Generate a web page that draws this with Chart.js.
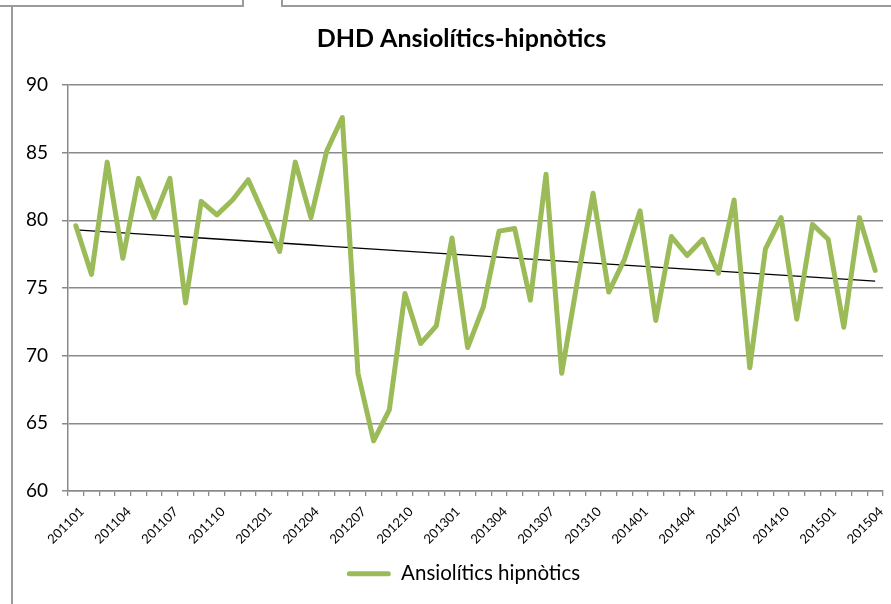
<!DOCTYPE html>
<html>
<head>
<meta charset="utf-8">
<script src="https://cdn.jsdelivr.net/npm/chart.js@4/dist/chart.umd.min.js"></script>
<style>
  html, body { margin: 0; padding: 0; background: #fff; }
  #wrap { width: 891px; height: 604px; position: relative; }
</style>
</head>
<body>
<div id="wrap"><canvas id="dhdChart" width="891" height="604"></canvas></div>
<script>
// --- Data: monthly DHD, Jan 2011 - Apr 2015 ---
const months = [
  '201101', '201102', '201103', '201104', '201105', '201106', '201107', '201108', '201109', '201110', '201111', '201112',
  '201201', '201202', '201203', '201204', '201205', '201206', '201207', '201208', '201209', '201210', '201211', '201212',
  '201301', '201302', '201303', '201304', '201305', '201306', '201307', '201308', '201309', '201310', '201311', '201312',
  '201401', '201402', '201403', '201404', '201405', '201406', '201407', '201408', '201409', '201410', '201411', '201412',
  '201501', '201502', '201503', '201504'
];
const ansiolitics = [
  79.6, 76.0, 84.3, 77.2, 83.1, 80.2, 83.1, 73.9, 81.4, 80.4, 81.5, 83.0,
  80.4, 77.7, 84.3, 80.2, 85.1, 87.6, 68.7, 63.7, 66.0, 74.6, 70.9, 72.2,
  78.7, 70.6, 73.6, 79.2, 79.4, 74.1, 83.4, 68.7, 75.5, 82.0, 74.7, 77.1,
  80.7, 72.6, 78.8, 77.4, 78.6, 76.1, 81.5, 69.1, 77.9, 80.2, 72.7, 79.7,
  78.6, 72.1, 80.2, 76.3
];
const yTicks = [60, 65, 70, 75, 80, 85, 90];

const GREEN = '#9bbb59';
const GRID = '#8a8a8a';
const FONT = 'Lato, "Open Sans", sans-serif';

// Linear trend (least squares over the month index)
function linearTrend(values) {
  const n = values.length;
  let sx = 0, sy = 0, sxy = 0, sxx = 0;
  values.forEach((v, i) => { sx += i; sy += v; sxy += i * v; sxx += i * i; });
  const slope = (n * sxy - sx * sy) / (n * sxx - sx * sx);
  const intercept = (sy - slope * sx) / n;
  return values.map((v, i) => intercept + slope * i);
}
const trend = linearTrend(ansiolitics);

// Page frame drawn behind the chart
const framePlugin = {
  id: 'frame',
  beforeDraw(chart) {
    const ctx = chart.ctx;
    ctx.save();
    ctx.fillStyle = '#ffffff';
    ctx.fillRect(0, 0, chart.width, chart.height);
    ctx.strokeStyle = '#9a9a9a';
    ctx.lineWidth = 2;
    ctx.beginPath();
    ctx.moveTo(0, 6); ctx.lineTo(243, 6);
    ctx.moveTo(282, 6); ctx.lineTo(chart.width, 6);
    ctx.moveTo(243, 0); ctx.lineTo(243, 7);
    ctx.moveTo(282, 0); ctx.lineTo(282, 7);
    ctx.moveTo(12, 6); ctx.lineTo(12, chart.height);
    ctx.stroke();
    ctx.restore();
  }
};

// Title and legend sit a little right of the full-width centre
const nudgePlugin = {
  id: 'nudge',
  afterLayout(chart) {
    if (chart.titleBlock) { chart.titleBlock.left += 10; chart.titleBlock.right += 10; }
    if (chart.legend) { chart.legend.left += 12; chart.legend.right += 12; }
  }
};

const ctx = document.getElementById('dhdChart').getContext('2d');
new Chart(ctx, {
  type: 'line',
  data: {
    labels: months,
    datasets: [{
      label: 'Ansiolítics hipnòtics',
      data: ansiolitics,
      borderColor: GREEN,
      backgroundColor: GREEN,
      borderWidth: 5,
      borderJoinStyle: 'round',
      borderCapStyle: 'round',
      pointRadius: 0,
      tension: 0
    }, {
      label: 'trend',
      data: trend,
      borderColor: '#000000',
      borderWidth: 1.3,
      pointRadius: 0,
      tension: 0
    }]
  },
  options: {
    responsive: false,
    animation: false,
    layout: { padding: { left: 20, right: 8, top: 0, bottom: 10 } },
    plugins: {
      title: {
        display: true,
        text: 'DHD Ansiolítics-hipnòtics',
        color: '#000',
        font: { family: FONT, size: 25, weight: 'bold', lineHeight: 1.2 },
        padding: { top: 24, bottom: 31 }
      },
      legend: {
        position: 'bottom',
        labels: {
          color: '#000',
          font: { family: FONT, size: 20.5 },
          boxWidth: 44,
          boxHeight: 5,
          padding: 9,
          useBorderRadius: true,
          borderRadius: 2.5,
          generateLabels(chart) {
            return Chart.defaults.plugins.legend.labels.generateLabels(chart)
              .filter(item => item.datasetIndex === 0)
              .map(item => Object.assign(item, { lineWidth: 0, fillStyle: GREEN }));
          }
        }
      },
      tooltip: { enabled: false }
    },
    scales: {
      x: {
        offset: true,
        afterFit(scale) {
          // rotated labels hang below-left, keep the plot edges fixed
          scale.height = 63.5;
          scale.paddingLeft = 0;
          scale.paddingRight = 0;
        },
        grid: {
          display: true,
          offset: true,
          drawOnChartArea: false,
          color: GRID,
          lineWidth: 1.3,
          tickLength: 5
        },
        border: { color: GRID, width: 1.5 },
        ticks: {
          autoSkip: false,
          maxRotation: 45,
          minRotation: 45,
          padding: 8,
          labelOffset: 6,
          color: '#000',
          font: { family: FONT, size: 13 },
          callback(value, index) { return index % 3 === 0 ? months[index] : ''; }
        }
      },
      y: {
        min: yTicks[0],
        max: yTicks[yTicks.length - 1],
        afterFit(scale) { scale.width = 48; },
        afterBuildTicks(scale) { scale.ticks = yTicks.map(v => ({ value: v })); },
        grid: { color: GRID, lineWidth: 1.5, tickLength: 6 },
        border: { color: GRID, width: 1.5 },
        ticks: {
          padding: 14,
          color: '#000',
          font: { family: FONT, size: 19 }
        }
      }
    }
  },
  plugins: [framePlugin, nudgePlugin]
});
</script>
</body>
</html>
